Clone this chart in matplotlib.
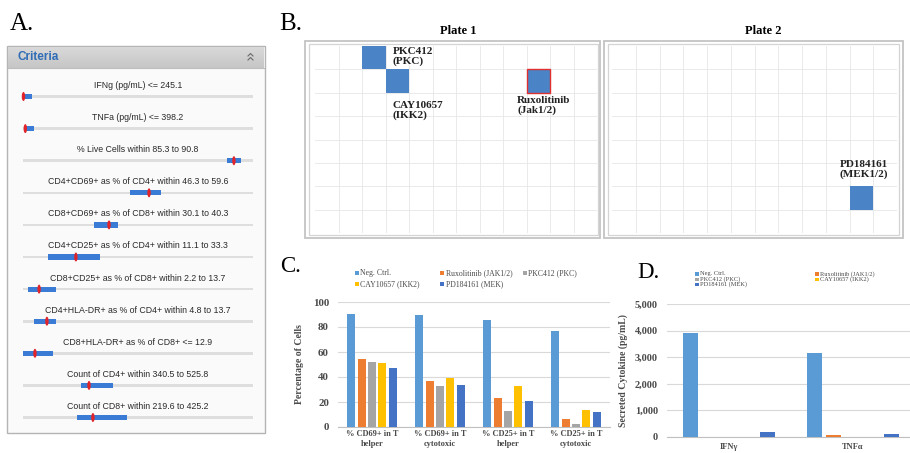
import matplotlib
matplotlib.use('Agg')
import matplotlib.pyplot as plt
from matplotlib.patches import Rectangle, Ellipse
import numpy as np

# ---------------- DATA ----------------
# Panel A: criteria sliders (fractions along the slider track)
criteria_labels = [
    "IFNg (pg/mL) <= 245.1",
    "TNFa (pg/mL) <= 398.2",
    "% Live Cells within 85.3 to 90.8",
    "CD4+CD69+ as % of CD4+ within 46.3 to 59.6",
    "CD8+CD69+ as % of CD8+ within 30.1 to 40.3",
    "CD4+CD25+ as % of CD4+ within 11.1 to 33.3",
    "CD8+CD25+ as % of CD8+ within 2.2 to 13.7",
    "CD4+HLA-DR+ as % of CD4+ within 4.8 to 13.7",
    "CD8+HLA-DR+ as % of CD8+ <= 12.9",
    "Count of CD4+ within 340.5 to 525.8",
    "Count of CD8+ within 219.6 to 425.2",
]
range_lo = [-0.005, 0.005, 0.887, 0.465, 0.309, 0.109, 0.022, 0.048, 0.000, 0.252, 0.235]
range_hi = [0.040, 0.048, 0.948, 0.600, 0.413, 0.335, 0.143, 0.143, 0.130, 0.391, 0.452]
marker_pos = [0.002, 0.010, 0.917, 0.548, 0.374, 0.230, 0.070, 0.104, 0.052, 0.287, 0.304]

# Panel B: hit wells on 96-well plates (col, row)
plate_titles = ["Plate 1", "Plate 2"]
hit_names = ["PKC412\n(PKC)", "CAY10657\n(IKK2)", "Ruxolitinib\n(Jak1/2)", "PD184161\n(MEK1/2)"]
hit_plate = [0, 0, 0, 1]
hit_col = [2, 3, 9, 10]
hit_row = [0, 1, 1, 6]

# Panel C / D
series = ["Neg. Ctrl.", "Ruxolitinib (JAK1/2)", "PKC412 (PKC)", "CAY10657 (IKK2)", "PD184161 (MEK)"]
colors = ["#5B9BD5", "#ED7D31", "#A5A5A5", "#FFC000", "#4472C4"]

c_categories = ["% CD69+ in T\nhelper", "% CD69+ in T\ncytotoxic", "% CD25+ in T\nhelper", "% CD25+ in T\ncytotoxic"]
c_neg = [90.3, 89.3, 86.0, 77.2]
c_rux = [54.2, 37.0, 23.0, 6.7]
c_pkc = [52.3, 32.7, 12.9, 2.4]
c_cay = [51.5, 39.4, 33.2, 13.7]
c_pd = [46.9, 33.5, 20.9, 11.8]

d_categories = ["IFNγ", "TNFα"]
d_neg = [3900, 3150]
d_rux = [10, 90]
d_pkc = [5, 5]
d_cay = [5, 5]
d_pd = [170, 130]

# ---------------- FIGURE ----------------
W, H = 910, 453
fig = plt.figure(figsize=(W / 100, H / 100), dpi=100)
SERIF = "Liberation Serif"
SANS = "Liberation Sans"
TXT = '#4a4a4a'


def add_ax_px(x0, y0, x1, y1, **kw):
    return fig.add_axes([x0 / W, 1 - y1 / H, (x1 - x0) / W, (y1 - y0) / H], **kw)


bg = add_ax_px(0, 0, W, H)
bg.set_xlim(0, W)
bg.set_ylim(H, 0)
bg.axis('off')

# panel letters
bg.text(10, 30, "A.", fontsize=18, family=SERIF, va='baseline', ha='left')
bg.text(279, 30, "B.", fontsize=18, family=SERIF, va='baseline', ha='left')
bg.text(280, 272, "C.", fontsize=16.5, family=SERIF, va='baseline', ha='left')
bg.text(637, 278, "D.", fontsize=16.5, family=SERIF, va='baseline', ha='left')

# ---------------- PANEL A ----------------
bg.add_patch(Rectangle((7, 46), 258, 387, fc='#fafafa', ec='#b4b4b4', lw=1.0))
grad = np.linspace(0, 1, 50).reshape(-1, 1)
bg.imshow(grad, extent=(8, 264, 68, 47), cmap=matplotlib.colors.LinearSegmentedColormap.from_list(
    'hdr', ['#d9d9d9', '#c6c6c6']), aspect='auto', origin='upper', zorder=1)
bg.set_xlim(0, W)
bg.set_ylim(H, 0)
bg.plot([8, 264], [68, 68], color='#bdbdbd', lw=0.8, zorder=2)
bg.text(17, 57.5, "Criteria", color='#2f6cb5', fontweight='bold', fontsize=8.5,
        family=SANS, va='center', ha='left', zorder=3)
for yy in (54.5, 58.5):
    bg.plot([248, 250.5, 253], [yy + 1.5, yy - 1, yy + 1.5], color='#6a6a6a', lw=0.8, zorder=3)

track_x0, track_w = 23, 230
for i, lab in enumerate(criteria_labels):
    yt = 85.5 + 32.1 * i
    ys = yt + 11
    bg.text(138, yt, lab, fontsize=6.3, family=SANS, color='#2a2a2a', ha='center', va='center')
    bg.add_patch(Rectangle((track_x0, ys - 1.3), track_w, 2.6, fc='#dedede', ec='none'))
    lo, hi = range_lo[i], range_hi[i]
    bg.add_patch(Rectangle((track_x0 + lo * track_w, ys - 2.6), (hi - lo) * track_w, 5.2,
                           fc='#3a7bd5', ec='none'))
    bg.add_patch(Ellipse((track_x0 + marker_pos[i] * track_w, ys), 3.4, 9, fc='#e0242a', ec='none'))

# ---------------- PANEL B ----------------
plate_boxes = [(315, 46, 597, 233), (612, 46, 897, 233)]
outer_boxes = [((305, 41), (600, 238)), ((604, 41), (903, 238))]
inner_boxes = [((309, 44), (598, 235)), ((608, 44), (899, 235))]
for (p0, p1) in outer_boxes:
    bg.add_patch(Rectangle(p0, p1[0] - p0[0], p1[1] - p0[1], fc='white', ec='#c4c4c4', lw=1.3))
for (p0, p1) in inner_boxes:
    bg.add_patch(Rectangle(p0, p1[0] - p0[0], p1[1] - p0[1], fc='none', ec='#d4d4d4', lw=0.9))
bg.text(458, 31, plate_titles[0], fontsize=9, fontweight='bold', family=SERIF, ha='center', va='center')
bg.text(763, 31, plate_titles[1], fontsize=9, fontweight='bold', family=SERIF, ha='center', va='center')

plate_axes = []
for box in plate_boxes:
    ax = add_ax_px(*box)
    ax.set_xlim(0, 12)
    ax.set_ylim(8, 0)
    for k in range(1, 12):
        ax.axvline(k, color='#e6e6e6', lw=0.6, zorder=0)
    for k in range(1, 8):
        ax.axhline(k, color='#e6e6e6', lw=0.6, zorder=0)
    ax.set_xticks([])
    ax.set_yticks([])
    for s in ax.spines.values():
        s.set_visible(False)
    ax.patch.set_alpha(0)
    plate_axes.append(ax)

label_pos = [(3.3, 0.45, 'left'), (3.3, 2.75, 'left'), (8.6, 2.55, 'left'), (10.6, 5.3, 'center')]
for name, p, c, r, (lx, ly, ha) in zip(hit_names, hit_plate, hit_col, hit_row, label_pos):
    ax = plate_axes[p]
    edge = '#e03030' if name.startswith("Ruxolitinib") else 'none'
    ax.add_patch(Rectangle((c, r), 1, 1, fc='#4a84c6', ec=edge, lw=1.0, zorder=2))
    ax.text(lx, ly, name, fontsize=8, fontweight='bold', family=SERIF, ha=ha, va='center',
            linespacing=1.05, color='#222222')

# ---------------- PANEL C ----------------
c_vals = [c_neg, c_rux, c_pkc, c_cay, c_pd]
axC = add_ax_px(338, 302, 610, 427)
xc = np.arange(len(c_categories))
offs = (np.arange(5) - 2) * 0.154
for j in range(5):
    axC.bar(xc + offs[j], c_vals[j], width=0.117, color=colors[j], zorder=3)
axC.set_xlim(-0.5, len(c_categories) - 0.5)
axC.set_ylim(0, 100)
axC.set_yticks(range(0, 101, 20))
axC.grid(axis='y', color='#d9d9d9', lw=0.8, zorder=0)
axC.set_axisbelow(True)
for s in ('top', 'right', 'left'):
    axC.spines[s].set_visible(False)
axC.spines['bottom'].set_color('#c0c0c0')
axC.tick_params(length=0, pad=6.5)
axC.tick_params(axis='x', pad=2.5)
axC.set_xticks(xc)
axC.set_xticklabels(c_categories, fontsize=6, fontweight='bold', family=SERIF, color=TXT,
                    linespacing=1.25)
for t in axC.get_yticklabels():
    t.set_fontsize(7.8)
    t.set_fontweight('bold')
    t.set_family(SERIF)
    t.set_color(TXT)
axC.set_ylabel("Percentage of Cells", fontsize=7, fontweight='bold', family=SERIF, color=TXT,
               labelpad=6)

legC = [(357, 273), (442, 273), (525, 273), (357, 284), (442, 284)]
for (lx, ly), name, col in zip(legC, series, colors):
    bg.add_patch(Rectangle((lx - 2, ly - 2), 4, 4, fc=col, ec='none'))
    bg.text(lx + 3.5, ly, name, fontsize=5.6, family=SERIF, color=TXT, ha='left', va='center')

# ---------------- PANEL D ----------------
d_vals = [d_neg, d_rux, d_pkc, d_cay, d_pd]
axD = add_ax_px(667, 304, 915, 437)
xd = np.arange(len(d_categories))
offs_d = (np.arange(5) - 2) * 0.155
for j in range(5):
    axD.bar(xd + offs_d[j], d_vals[j], width=0.12, color=colors[j], zorder=3)
axD.set_xlim(-0.5, len(d_categories) - 0.5)
axD.set_ylim(0, 5000)
axD.set_yticks(range(0, 5001, 1000))
axD.set_yticklabels([f"{v:,}" for v in range(0, 5001, 1000)])
axD.grid(axis='y', color='#d9d9d9', lw=0.8, zorder=0)
axD.set_axisbelow(True)
for s in ('top', 'right', 'left'):
    axD.spines[s].set_visible(False)
axD.spines['bottom'].set_color('#c0c0c0')
axD.tick_params(length=0, pad=6.5)
axD.tick_params(axis='x', pad=4)
axD.set_xticks(xd)
axD.set_xticklabels(d_categories, fontsize=6, fontweight='bold', family=SERIF, color=TXT)
for t in axD.get_yticklabels():
    t.set_fontsize(7.5)
    t.set_fontweight('bold')
    t.set_family(SERIF)
    t.set_color(TXT)
axD.set_ylabel("Secreted Cytokine (pg/mL)", fontsize=7, fontweight='bold', family=SERIF,
               color=TXT, labelpad=5)

legD = [(697, 274), (817, 274), (697, 279.3), (817, 279.3), (697, 284.6)]
for (lx, ly), name, col in zip(legD, series, colors):
    bg.add_patch(Rectangle((lx - 1.6, ly - 1.6), 3.2, 3.2, fc=col, ec='none'))
    bg.text(lx + 3, ly, name, fontsize=4.6, family=SERIF, color=TXT, ha='left', va='center')

fig.savefig("out.png", dpi=100)
